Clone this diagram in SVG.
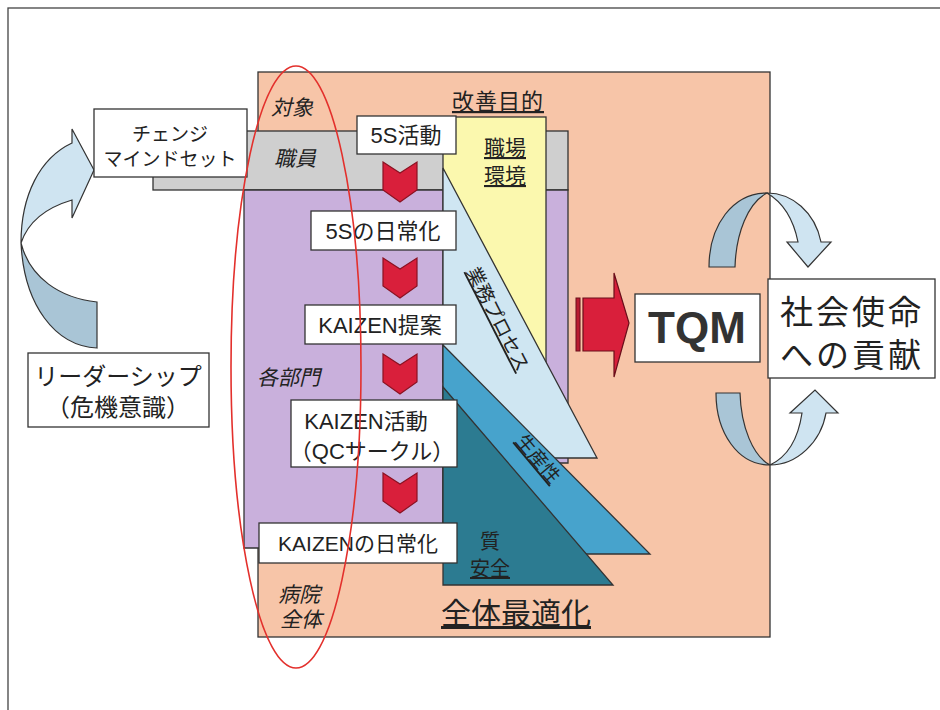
<svg xmlns="http://www.w3.org/2000/svg" width="940" height="710" viewBox="0 0 940 710">
<defs>
<style>
.t{font-family:"Liberation Sans","Noto Sans CJK JP",sans-serif;fill:#222;}
.it{font-style:italic;}
.u{text-decoration:underline;}
.box{fill:#fff;stroke:#333;stroke-width:1.3;}
.ln{stroke:#333;stroke-width:1.3;}
.chev{fill:#d91f3b;stroke:#8a1222;stroke-width:1.2;}
.lt{fill:#cfe4f1;stroke:#333;stroke-width:1.2;}
.dk{fill:#a9c5d6;stroke:#333;stroke-width:1.2;}
</style>
<polygon id="chev" points="-17,0 0,11 17,0 17,28 0,40 -17,28"/>
</defs>
<rect width="940" height="710" fill="#fff"/>
<rect x="8" y="8" width="940" height="720" fill="none" stroke="#444" stroke-width="1.3"/>

<g id="peach-area">
<rect x="258" y="72" width="512" height="565" fill="#f7c5a8" class="ln"/>
</g>
<g id="gray-band">
<rect x="153" y="131" width="415" height="59" fill="#cfcfcf" class="ln"/>
</g>
<g id="purple-area">
<polygon points="244,190 568,190 568,463 443,463 443,548 244,548" fill="#c9b0dc" class="ln"/>
</g>
<g id="yellow-area">
<rect x="443" y="117" width="103" height="265" fill="#fbf8ae" class="ln"/>
</g>
<g id="tri-process">
<polygon points="443,168 597,458 443,458" fill="#cfe6f2" class="ln"/>
</g>
<g id="tri-productivity">
<polygon points="443,345 650,554 443,554" fill="#47a3cc" class="ln"/>
</g>
<g id="tri-quality">
<polygon points="443,387 613,585 443,585" fill="#2c7b91" class="ln"/>
</g>

<g id="label-purpose"><text class="t u" x="498" y="109" font-size="22" text-anchor="middle" letter-spacing="1">改善目的</text></g>
<g id="label-target"><text class="t it" x="271" y="115" font-size="21">対象</text></g>
<g id="label-staff"><text class="t it" x="274" y="166" font-size="21">職員</text></g>
<g id="label-env"><text class="t u" x="505" y="155" font-size="21" text-anchor="middle">職場</text><text class="t u" x="505" y="183" font-size="21" text-anchor="middle">環境</text></g>
<g id="label-process"><text class="t u" font-size="19" text-anchor="middle" transform="translate(492,322) rotate(63)">業務プロセス</text></g>
<g id="label-prod"><text class="t u" font-size="19" text-anchor="middle" transform="translate(533,463) rotate(50)">生産性</text></g>
<g id="label-quality"><text class="t" x="490" y="549" font-size="20" text-anchor="middle">質</text><text class="t u" x="490" y="576" font-size="20" text-anchor="middle">安全</text></g>
<g id="label-dept"><text class="t it" x="257" y="385" font-size="21">各部門</text></g>
<g id="label-hospital"><text class="t it" x="278" y="602" font-size="21">病院</text><text class="t it" x="280" y="627" font-size="21">全体</text></g>
<g id="label-total"><text class="t u" x="516" y="624" font-size="30" text-anchor="middle">全体最適化</text></g>

<g id="step1"><rect class="box" x="357" y="116" width="99" height="38"/><text class="t" x="406" y="143" font-size="22" text-anchor="middle">5S活動</text></g>
<g id="step2"><rect class="box" x="311" y="211" width="145" height="39"/><text class="t" x="383" y="239" font-size="22" text-anchor="middle">5Sの日常化</text></g>
<g id="step3"><rect class="box" x="305" y="305" width="151" height="39"/><text class="t" x="380" y="333" font-size="22" text-anchor="middle">KAIZEN提案</text></g>
<g id="step4"><rect class="box" x="291" y="400" width="166" height="67"/><text class="t" x="366" y="429" font-size="22" text-anchor="middle">KAIZEN活動</text><text class="t" x="372" y="459" font-size="22" text-anchor="middle">（QCサークル）</text></g>
<g id="step5"><rect class="box" x="259" y="523" width="198" height="40"/><text class="t" x="358" y="551" font-size="21" text-anchor="middle">KAIZENの日常化</text></g>

<g id="connectors">
<use href="#chev" class="chev" x="400" y="162"/>
<use href="#chev" class="chev" x="400" y="258"/>
<use href="#chev" class="chev" x="400" y="354"/>
<use href="#chev" class="chev" x="400" y="473"/>
<g id="tqm-arrow">
<rect x="576" y="298" width="4" height="53" fill="#b81a30" stroke="#6a0e1a" stroke-width="1"/>
<polygon points="583,298 614,298 614,273 629,323 614,377 614,351 583,351" fill="#d91f3b" stroke="#6a0e1a" stroke-width="1.2"/>
</g>
<g id="left-curve">
<path class="dk" d="M21,243 C24,305 55,346 97,348 L97,302 C60,298 30,278 21,243 Z"/>
<path class="lt" d="M21,243 C21,195 40,158 72,143 L72,129 L94,170 L72,218 L72,200 C45,208 28,222 21,243 Z"/>
</g>
<g id="top-curve">
<path class="dk" d="M767,193 C733,193 709,225 709,267 L735,267 C736,233 748,203 767,193 Z"/>
<path class="lt" d="M767,193 C792,193 815,212 821,242 L831,242 L808,267 L787,242 L798,242 C794,222 784,203 767,193 Z"/>
</g>
<g id="bottom-curve">
<path class="dk" d="M770,465 C738,465 716,433 716,393 L740,393 C741,427 753,456 770,465 Z"/>
<path class="lt" d="M770,465 C797,465 821,442 826,413 L838,413 L815,390 L790,413 L802,413 C798,440 787,457 770,465 Z"/>
</g>
</g>

<g id="mindset"><rect class="box" x="94" y="109" width="153" height="68"/><text class="t" x="170" y="141" font-size="19" text-anchor="middle">チェンジ</text><text class="t" x="170" y="166" font-size="19" text-anchor="middle">マインドセット</text></g>
<g id="leadership"><rect class="box" x="28" y="353" width="181" height="74"/><text class="t" x="118" y="385" font-size="24" text-anchor="middle">リーダーシップ</text><text class="t" x="118" y="416" font-size="24" text-anchor="middle">（危機意識）</text></g>
<g id="tqm"><rect class="box" x="635" y="294" width="125" height="68"/><text x="697" y="343" font-family="Liberation Sans, Arial, sans-serif" font-weight="bold" font-size="44" fill="#333" text-anchor="middle">TQM</text></g>
<g id="mission"><rect class="box" x="768" y="279" width="167" height="99"/><text class="t" x="852" y="324" font-size="33" text-anchor="middle" letter-spacing="3">社会使命</text><text class="t" x="852" y="367" font-size="33" text-anchor="middle" letter-spacing="3">への貢献</text></g>

<g id="target-ellipse"><ellipse cx="296" cy="367" rx="65" ry="301" fill="none" stroke="#e3302c" stroke-width="1.6"/></g>
</svg>
